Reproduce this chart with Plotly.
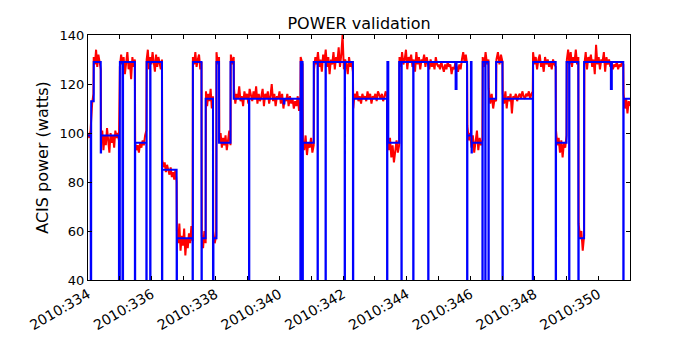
import plotly.graph_objs as go
import numpy as np

# model (blue) step values
model_t = [334.0, 334.085, 334.10, 334.18, 334.40, 334.41, 334.97, 335.00, 335.08, 335.10,
           335.47, 335.48, 335.83, 335.84, 335.95, 335.96, 336.32, 336.33, 336.78, 336.79,
           337.28, 337.29, 337.56, 337.57, 337.69, 337.92, 337.935, 338.03, 338.11, 338.47,
           338.57, 339.05, 339.06, 340.14, 340.16, 340.66, 340.67, 340.73, 340.74, 341.08,
           341.20, 341.21, 341.45, 341.46, 342.05, 342.06, 342.31, 342.32, 343.38, 343.39,
           343.42, 343.76, 343.83, 343.84, 344.20, 344.21, 344.67, 344.68, 345.53, 345.56,
           345.89, 345.90, 346.01, 346.03, 346.04, 346.37, 346.38, 346.46, 346.47, 346.56,
           346.57, 346.80, 347.00, 347.01, 347.95, 347.96, 348.67, 348.68, 349.01, 349.09,
           349.10, 349.38, 349.39, 349.56, 350.40, 350.43, 350.79, 350.80, 351.0]
model_v = [99, 40, 113, 129, 92, 99, 40, 129, 40, 129,
           40, 96, 40, 129, 40, 129, 40, 85, 40, 57,
           40, 129, 40, 57, 114, 40, 57, 129, 96, 129,
           114, 40, 114, 112, 114, 40, 129, 40, 96, 129,
           40, 129, 40, 129, 40, 129, 40, 114, 40, 129,
           96, 129, 40, 129, 40, 129, 40, 129, 118, 129,
           40, 99, 129, 92, 96, 40, 129, 40, 129, 40,
           114, 129, 40, 114, 40, 129, 40, 96, 129, 40,
           129, 40, 57, 129, 118, 129, 40, 114, 114]

# telemetry (red), read per segment
seg_start = [334.00, 334.09, 334.18, 334.41, 335.00, 335.48, 335.84, 336.33, 336.79, 337.29,
             337.57, 337.70, 337.93, 338.03, 338.12, 338.48, 338.58, 340.67, 340.74, 341.09,
             342.32, 343.39, 343.77, 345.00, 345.90, 346.38, 346.57, 346.81, 347.01, 347.96,
             348.68, 349.02, 349.39, 349.57, 350.80]
seg_end = [334.08, 334.17, 334.40, 334.97, 335.47, 335.83, 336.32, 336.78, 337.28, 337.56,
           337.69, 337.92, 338.02, 338.11, 338.47, 338.57, 340.66, 340.73, 341.08, 342.31,
           343.38, 343.76, 344.99, 345.89, 346.37, 346.56, 346.80, 347.00, 347.95, 348.67,
           349.01, 349.38, 349.56, 350.79, 351.00]
seg_vals = [
    [100, 98, 101],
    [105, 112, 116],
    [131, 128, 134, 127, 132, 129, 126],
    [97, 101, 93, 99, 95, 102, 97, 92, 100, 96, 99, 94, 101, 98, 100, 97],
    [127, 132, 128, 131, 124, 130, 133, 126, 129, 122, 131, 127, 130],
    [96, 93, 95, 92, 96, 94, 97, 95, 99, 101],
    [130, 134, 126, 131, 128, 133, 129, 125, 132, 127, 131, 129, 126, 130],
    [89, 86, 88, 84, 87, 85, 83, 86, 82, 84, 81, 85, 80],
    [60, 55, 63, 52, 58, 54, 61, 50, 57, 53, 59, 55, 62, 56],
    [131, 128, 133, 127, 130, 132, 126, 129],
    [58, 53, 60, 55],
    [117, 111, 116, 113, 118, 110, 115],
    [60, 55, 58],
    [133, 128, 131],
    [96, 100, 94, 98, 95, 99, 93, 97, 101, 95],
    [132, 128, 131],
    [118, 112, 116, 114, 119, 113, 115, 111, 117, 114, 116, 112, 118, 115, 113, 117, 114, 119,
     112, 116, 113, 115, 118, 111, 116, 114, 117, 112, 115, 120, 113, 116, 111, 115, 114, 117,
     112, 116, 110, 114, 113, 116, 111, 115, 112, 114, 110, 113, 111, 115, 109, 112],
    [131, 128],
    [97, 93, 99, 91, 96, 94, 98, 92, 95],
    [126, 131, 128, 133, 127, 130, 125, 132, 129, 134, 127, 131, 124, 130, 128, 133, 126, 131,
     129, 135, 127, 132, 140, 126, 130, 128, 124, 131, 127, 129, 125],
    [110, 116, 114, 117, 113, 115, 112, 116, 114, 115, 113, 117, 114, 116, 112, 115, 114, 116,
     113, 117, 115, 114, 116, 113, 115, 117, 114],
    [96, 93, 98, 90, 95, 88, 94, 97, 92, 95],
    [131, 127, 133, 128, 130, 134, 126, 131, 129, 132, 127, 130, 125, 133, 128, 131, 126, 130,
     129, 132, 127, 131, 128, 126, 130, 127, 129, 126, 131, 128, 127],
    [128, 126, 129, 127, 125, 128, 126, 129, 127, 128, 124, 127, 126, 129, 127, 125, 128, 126,
     130, 133, 129, 132, 128],
    [103, 97, 100, 94, 99, 92, 96, 101, 93, 98, 95, 97],
    [131, 127, 133, 128, 130],
    [118, 112, 116, 110, 114, 113],
    [130, 133, 128, 132, 129],
    [116, 112, 117, 110, 115, 113, 116, 108, 115, 114, 116, 113, 115, 116, 114, 117, 115, 114,
     116, 115, 117, 114, 116, 117],
    [133, 128, 131, 126, 130, 132, 127, 129, 125, 131, 128, 130, 127, 129, 126, 130, 128, 127],
    [101, 95, 98, 92, 97, 90, 96, 94, 99],
    [130, 134, 128, 133, 127, 131, 129, 134, 128, 131],
    [63, 57, 60, 52, 58],
    [128, 133, 126, 131, 129, 132, 127, 130, 124, 136, 128, 131, 126, 130, 129, 133, 125, 131,
     128, 130, 127, 129, 126, 128, 127, 129, 126, 128, 127, 129, 128],
    [116, 110, 114, 108, 113, 111],
]

tick_days = list(range(334, 352))
tick_text = ['2010:%d' % d if d % 2 == 0 else '' for d in tick_days]

red_t = []
red_v = []
for s, e, vals in zip(seg_start, seg_end, seg_vals):
    red_t += list(np.linspace(s, e, len(vals)))
    red_v += vals

fig = go.Figure()
fig.add_trace(go.Scatter(x=red_t, y=red_v, mode='lines',
                         line=dict(color='#ff0000', width=2), showlegend=False))
fig.add_trace(go.Scatter(x=model_t, y=model_v, mode='lines', line_shape='hv',
                         line=dict(color='#0000ff', width=2), showlegend=False))

font = 'DejaVu Sans, sans-serif'
# page body has an 8px margin, so the figure is offset by 8px
fig.update_layout(
    width=700, height=350,
    margin=dict(l=80, r=78, t=27, b=78),
    paper_bgcolor='white', plot_bgcolor='white',
    font=dict(family=font, size=13, color='black'),
    title=dict(text='POWER validation', x=0.5, xref='paper', xanchor='center',
               y=1 - 15 / 350, yref='container', yanchor='middle',
               font=dict(size=16, family=font)),
)
fig.update_xaxes(range=[334, 351], tickvals=tick_days, ticktext=tick_text, tickangle=-30,
                 tickfont=dict(size=14),
                 ticks='inside', ticklen=4, tickcolor='black', showline=True, linecolor='black',
                 linewidth=1, mirror='ticks', showgrid=False, zeroline=False, automargin=False)
fig.update_yaxes(range=[40, 140], dtick=20, tick0=40, ticks='inside', ticklen=4,
                 tickcolor='black', showline=True, linecolor='black', linewidth=1,
                 mirror='ticks', showgrid=False, zeroline=False, automargin=False,
                 title=dict(text='ACIS power (watts)', standoff=6))

fig.write_html("out.html")
